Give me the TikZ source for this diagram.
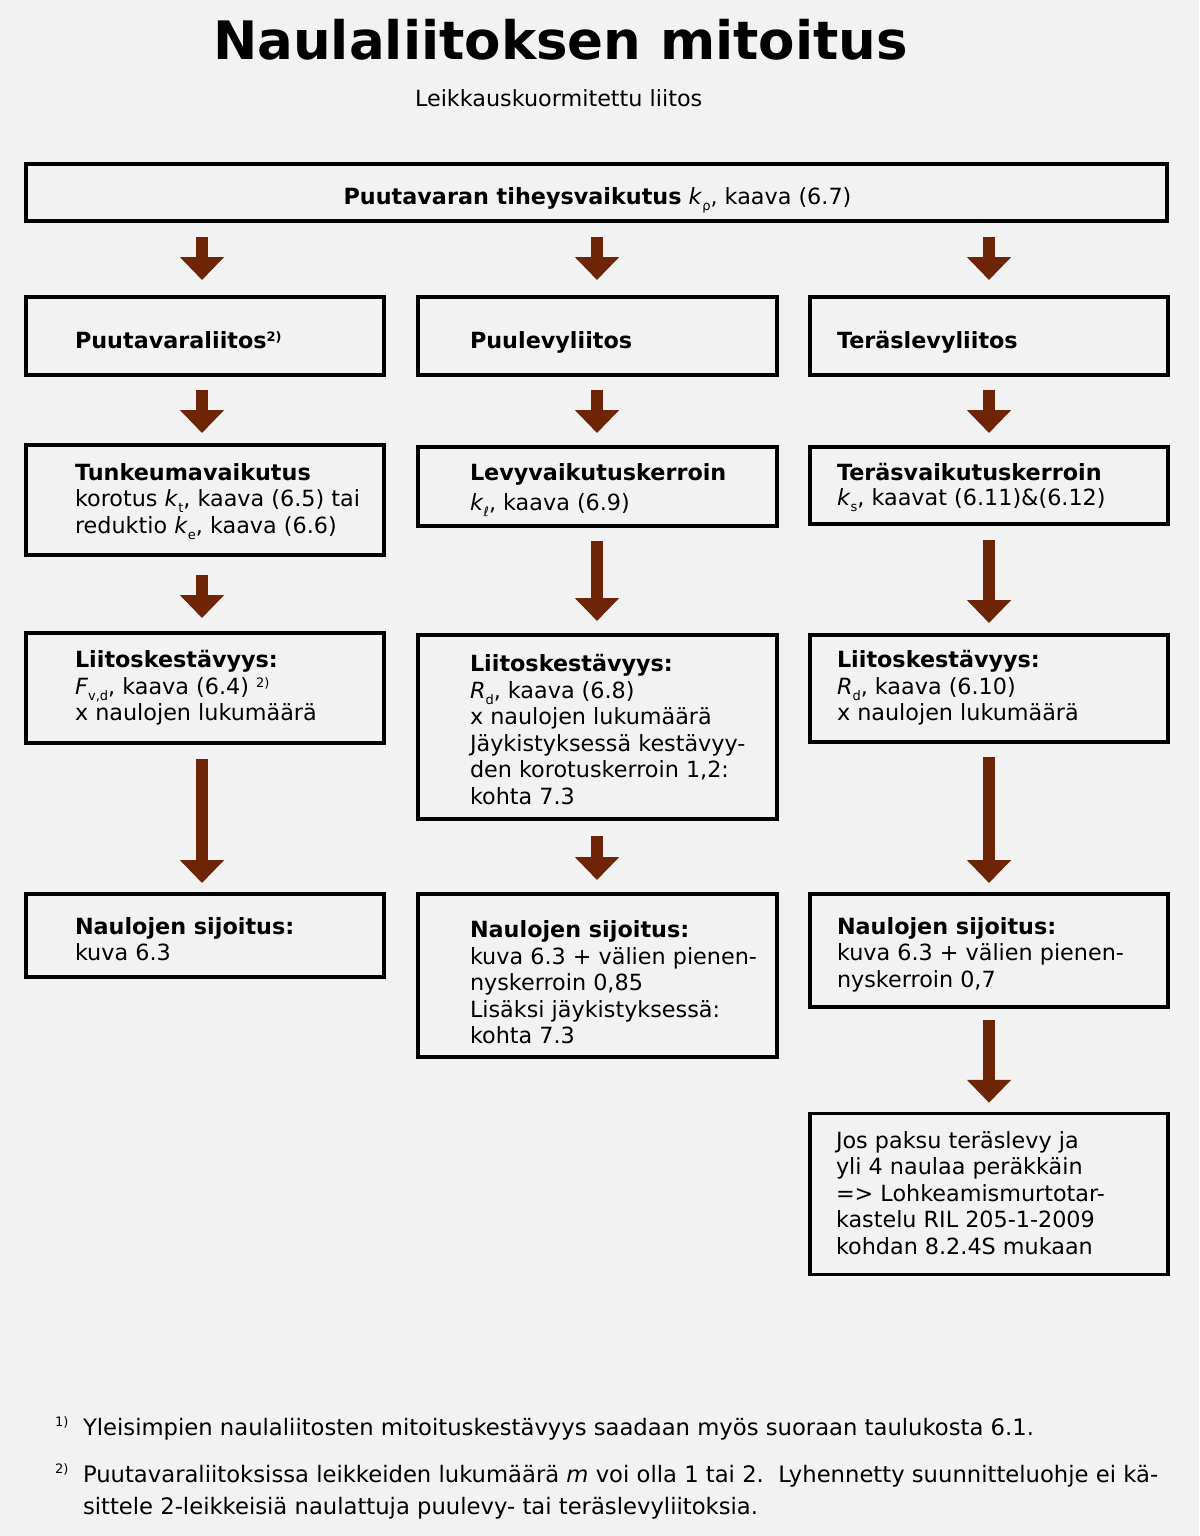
\documentclass[tikz,border=0pt]{standalone}
\usepackage{fontspec}
\setmainfont{DejaVu Sans}
\usetikzlibrary{arrows.meta,calc}
\definecolor{bg}{HTML}{F2F2F2}
\definecolor{brn}{HTML}{6E2406}
\newcommand\sbx[1]{\raisebox{-6pt}{\fontsize{13}{13}\selectfont #1}}
\newcommand\spx[1]{\raisebox{7pt}{\fontsize{13}{13}\selectfont #1}}
\newcommand\bx[5]{\node[box,minimum width=#4pt,minimum height=#5pt] (#1) at (#2,#3) {};}
\newcommand\tx[5]{\node[txt,font=\fontsize{22.3}{#4}\selectfont] (#1) at (#2,{#3-0.7*#4}) {\strut #5};}
\newcommand\arw[5]{\draw[barrow] ($(#1.south -| #3)+(0,#4)$) -- ($(#2.north -| #3)+(0,-#5)$);}
\begin{document}
\begin{tikzpicture}[x=1pt,y=-1pt,
  box/.style={draw=black,line width=3.2pt,inner sep=0pt,outer sep=0pt,fill=none},
  txt/.style={inner sep=0pt,outer sep=0pt,anchor=north west,align=left},
  tl/.style={inner sep=0pt,outer sep=0pt,font=\fontsize{22.3}{26.5}\selectfont},
  barrow/.style={draw=brn,line width=11.5pt,-{Triangle[width=43pt,length=23pt]}}]
\fill[bg] (0,0) rectangle (1199,1536);
\useasboundingbox (0,0) rectangle (1199,1536);

% title
\node[tl,anchor=base west,font=\fontsize{53}{60}\selectfont\bfseries] (title) at (213,60) {Naulaliitoksen mitoitus};
\node[tl,anchor=base west] (subtitle) at (415,107) {Leikkauskuormitettu liitos};

% column x coordinates
\coordinate (cL) at (202,0);
\coordinate (cM) at (597,0);
\coordinate (cR) at (989,0);

% boxes
\bx{top}{596.5}{192.5}{1141}{57}
\bx{r2l}{205}{336}{358}{78}
\bx{r2m}{597.5}{336}{359}{78}
\bx{r2r}{989}{336}{358}{78}
\bx{r3l}{205}{500}{358}{110}
\bx{r3m}{597.5}{486.5}{359}{79}
\bx{r3r}{989}{485.5}{358}{77}
\bx{r4l}{205}{688}{358}{110}
\bx{r4m}{597.5}{727}{359}{184}
\bx{r4r}{989}{688.5}{358}{107}
\bx{r5l}{205}{935.5}{358}{83}
\bx{r5m}{597.5}{975.5}{359}{163}
\bx{r5r}{989}{950.5}{358}{113}
\bx{r6r}{989}{1194}{358}{161.5}

% texts
\node[tl,anchor=base] (ttop) at (597.5,204) {\textbf{Puutavaran tiheysvaikutus} \textit{k}\sbx{ρ}, kaava (6.7)};
\node[tl,anchor=base west] (t2l) at (75,348) {\textbf{Puutavaraliitos\spx{2)}}};
\node[tl,anchor=base west] (t2m) at (470,348) {\textbf{Puulevyliitos}};
\node[tl,anchor=base west] (t2r) at (837,348) {\textbf{Teräslevyliitos}};

\tx{t3l}{75}{480}{26.6}{\textbf{Tunkeumavaikutus}\\ korotus \textit{k}\sbx{t}, kaava (6.5) tai\\ reduktio \textit{k}\sbx{e}, kaava (6.6)}
\tx{t3m}{470}{480}{30.7}{\textbf{Levyvaikutuskerroin}\\ \textit{k}\sbx{ℓ}, kaava (6.9)}
\tx{t3r}{837}{480}{25.7}{\textbf{Teräsvaikutuskerroin}\\ \textit{k}\sbx{s}, kaavat (6.11)\&(6.12)}

\tx{t4l}{75}{667.3}{26.7}{\textbf{Liitoskestävyys:}\\ \textit{F}\sbx{v,d}, kaava (6.4) \spx{2)}\\ x naulojen lukumäärä}
\tx{t4m}{470}{671.7}{26.5}{\textbf{Liitoskestävyys:}\\ \textit{R}\sbx{d}, kaava (6.8)\\ x naulojen lukumäärä\\ Jäykistyksessä kestävyy-\\ den korotuskerroin 1,2:\\ kohta 7.3}
\tx{t4r}{837}{667.3}{26.7}{\textbf{Liitoskestävyys:}\\ \textit{R}\sbx{d}, kaava (6.10)\\ x naulojen lukumäärä}

\tx{t5l}{75}{934}{26.5}{\textbf{Naulojen sijoitus:}\\ kuva 6.3}
\tx{t5m}{470}{937.5}{26.5}{\textbf{Naulojen sijoitus:}\\ kuva 6.3 + välien pienen-\\ nyskerroin 0,85\\ Lisäksi jäykistyksessä:\\ kohta 7.3}
\tx{t5r}{837}{934}{26.5}{\textbf{Naulojen sijoitus:}\\ kuva 6.3 + välien pienen-\\ nyskerroin 0,7}

\tx{t6r}{836}{1148}{26.5}{Jos paksu teräslevy ja\\ yli 4 naulaa peräkkäin\\ => Lohkeamismurtotar-\\ kastelu RIL 205-1-2009\\ kohdan 8.2.4S mukaan}

% arrows
\arw{top}{r2l}{cL}{16}{17}
\arw{top}{r2m}{cM}{16}{17}
\arw{top}{r2r}{cR}{16}{17}
\arw{r2l}{r3l}{cL}{15}{12}
\arw{r2m}{r3m}{cM}{15}{14}
\arw{r2r}{r3r}{cR}{15}{14}
\arw{r3l}{r4l}{cL}{20}{15}
\arw{r3m}{r4m}{cM}{15}{14}
\arw{r3r}{r4r}{cR}{16}{12}
\arw{r4l}{r5l}{cL}{16}{11}
\arw{r4m}{r5m}{cM}{17}{14}
\arw{r4r}{r5r}{cR}{15}{11}
\arw{r5r}{r6r}{cR}{13}{10.5}

% footnotes
\node[tl,anchor=base west,font=\fontsize{13}{13}\selectfont] (fm1) at (55,1426) {1)};
\node[tl,anchor=base west,font=\fontsize{22.7}{26.5}\selectfont] (fn1) at (83,1435) {Yleisimpien naulaliitosten mitoituskestävyys saadaan myös suoraan taulukosta 6.1.};
\node[tl,anchor=base west,font=\fontsize{13}{13}\selectfont] (fm2) at (55,1473) {2)};
\node[txt,font=\fontsize{22.7}{32}\selectfont] (fn2) at (83,{1482-0.7*32}) {\strut Puutavaraliitoksissa leikkeiden lukumäärä \textit{m} voi olla 1 tai 2.\ \ Lyhennetty suunnitteluohje ei kä-\\ sittele 2-leikkeisiä naulattuja puulevy- tai teräslevyliitoksia.};
\end{tikzpicture}
\end{document}
